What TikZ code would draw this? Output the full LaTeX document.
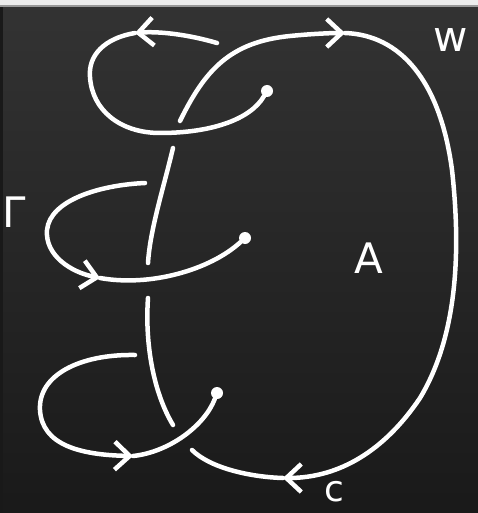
\documentclass[tikz,border=0pt]{standalone}
\usepackage{fontspec}
\setmainfont{DejaVu Sans}
\usetikzlibrary{arrows.meta}
\begin{document}
\begin{tikzpicture}[x=1pt, y=-1pt,
    chalk/.style={white, line width=4.5pt, line cap=round},
    barb/.style={chalk, -{Straight Barb[length=15pt, width=28pt]}},
    dot/.style={circle, fill=white, inner sep=0pt, minimum size=12pt},
    letter/.style={text=white, inner sep=0pt, font=\fontsize{42}{42}\selectfont}]
  % board
  \useasboundingbox (0,0) rectangle (478,513);
  \shade[top color=black!80, bottom color=black!90] (0,0) rectangle (478,513);
  \fill[black!90] (0,7) rectangle (3,513);
  \fill[black!7] (0,0) rectangle (478,5);
  \fill[black!40] (0,5) rectangle (478,7);

  \node[dot] (endTop) at (267,91) {};
  \node[dot] (endMid) at (245,238) {};
  \node[dot] (endLow) at (217,393) {};

  \coordinate (tipTop) at (135,33);
  \coordinate (tipBig) at (345,33);
  \coordinate (tipRight) at (283,478);
  \coordinate (tipMid) at (100,278);
  \coordinate (tipLow) at (133,456);

  % top loop
  \draw[barb] (217,43) .. controls (190,35) and (160,31) .. (tipTop);
  \draw[chalk] (tipTop) .. controls (105,38) and (88,55) .. (90,77)
    .. controls (92,110) and (120,133) .. (160,133)
    .. controls (210,133) and (250,120) .. (endTop);

  % big loop
  \draw[barb] (180,121) .. controls (205,70) and (230,42) .. (290,36)
    .. controls (310,34) and (330,33) .. (tipBig);
  \draw[barb] (tipBig) .. controls (400,35) and (440,80) .. (452,170)
    .. controls (462,260) and (455,340) .. (420,398)
    .. controls (385,450) and (340,478) .. (tipRight);
  \draw[chalk] (tipRight) .. controls (250,477) and (210,468) .. (192,450);

  % middle loop
  \draw[barb] (145,183) .. controls (100,185) and (50,200) .. (47,230)
    .. controls (45,255) and (70,272) .. (tipMid);
  \draw[chalk] (tipMid) .. controls (150,287) and (210,270) .. (endMid);

  % lower loop
  \draw[barb] (135,355) .. controls (80,354) and (38,375) .. (40,410)
    .. controls (42,445) and (80,455) .. (tipLow);
  \draw[chalk] (tipLow) .. controls (170,452) and (205,425) .. (endLow);

  % vertical strands
  \draw[chalk] (173,148) .. controls (163,190) and (150,230) .. (148,263);
  \draw[chalk] (148,298) .. controls (145,340) and (152,390) .. (173,425);

  \node[letter] (labelA) at (369,258) {A};
  \node[letter] (labelW) at (451,40) {w};
  \node[letter] (labelG) at (14,212) {Γ};
  \node[letter, font=\fontsize{36}{36}\selectfont] (labelC) at (334,492) {c};
\end{tikzpicture}
\end{document}
